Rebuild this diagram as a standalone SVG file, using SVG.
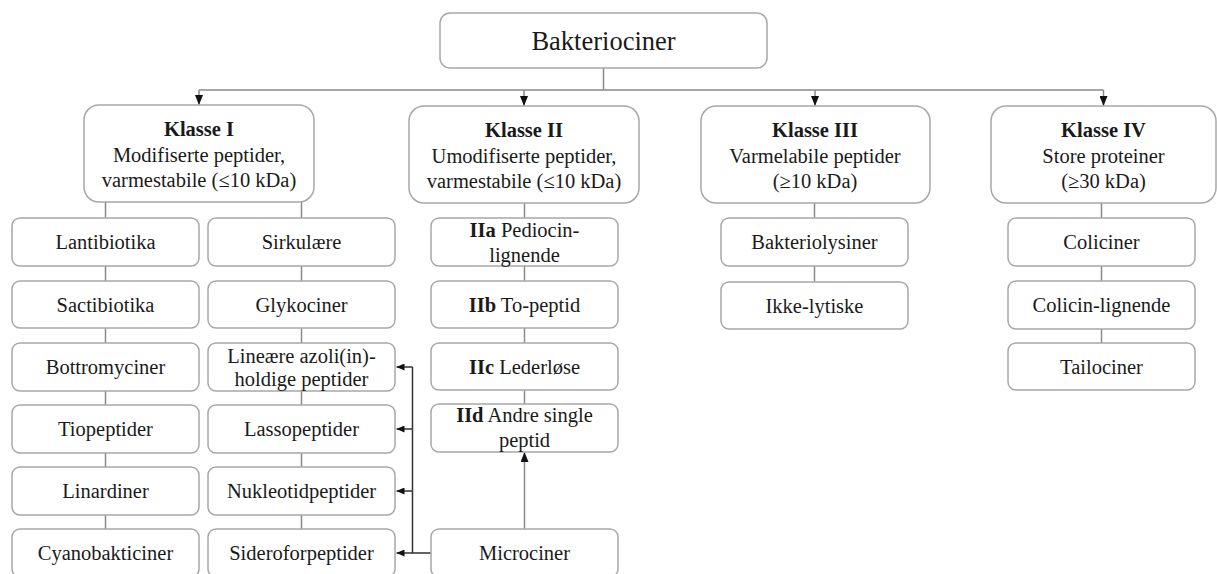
<svg xmlns="http://www.w3.org/2000/svg" width="1217" height="574" viewBox="0 0 1217 574">
<style>
.bx{fill:#fff;stroke:#a8a8a8;stroke-width:1.5}
.t{font-family:"Liberation Serif","Times New Roman",serif;font-size:20.5px;fill:#1a1a1a;text-anchor:middle}
.b{font-weight:bold}
.ln{fill:none;stroke:#8a8a8a;stroke-width:1.5}
.dk{fill:none;stroke:#333;stroke-width:1.5}
</style>
<defs>
<marker id="ah" viewBox="0 0 10 8" refX="10" refY="4" markerWidth="10" markerHeight="8" markerUnits="userSpaceOnUse" orient="auto"><path d="M0,0L10,4L0,8z" fill="#111"/></marker>
<marker id="as" viewBox="0 0 8 7" refX="8" refY="3.5" markerWidth="8" markerHeight="7" markerUnits="userSpaceOnUse" orient="auto"><path d="M0,0L8,3.5L0,7z" fill="#111"/></marker>
</defs>
<rect width="1217" height="574" fill="#fff"/>
<g id="connectors">
<path class="ln" d="M603.5,68V90M199,90H1103.5"/>
<path class="ln" d="M199,90V105" marker-end="url(#ah)"/>
<path class="ln" d="M524,90V106" marker-end="url(#ah)"/>
<path class="ln" d="M815,90V106" marker-end="url(#ah)"/>
<path class="ln" d="M1103.5,90V106" marker-end="url(#ah)"/>
<path class="ln" d="M105.5,202V218M105.5,266V281M105.5,328V343M105.5,391V405M105.5,453V467M105.5,515V529"/>
<path class="ln" d="M301.5,202V218M301.5,266V281M301.5,328V343M301.5,391V405M301.5,453V467M301.5,515V529"/>
<path class="ln" d="M524.5,203V218M524.5,266V281M524.5,328V343M524.5,390V404"/>
<path class="ln" d="M814.5,203V218M814.5,266V282"/>
<path class="ln" d="M1101.5,203V218M1101.5,266V281M1101.5,329V343"/>
<path class="ln" d="M524.5,529V452" marker-end="url(#ah)"/>
<path class="dk" d="M431,553H412.5V367"/>
<path class="dk" d="M412.5,367H396.5" marker-end="url(#as)"/>
<path class="dk" d="M412.5,429H396.5" marker-end="url(#as)"/>
<path class="dk" d="M412.5,491H396.5" marker-end="url(#as)"/>
<path class="dk" d="M412.5,553H396.5" marker-end="url(#as)"/>
</g>
<g id="root"><rect class="bx" x="440" y="13" width="327" height="55" rx="10"/><text class="t" x="603.5" y="50" style="font-size:26.5px">Bakteriociner</text></g>
<g id="k1"><rect class="bx" x="84" y="105" width="230" height="97" rx="15"/><text class="t" x="199" y="136"><tspan class="b">Klasse I</tspan></text><text class="t" x="199" y="162">Modifiserte peptider,</text><text class="t" x="199" y="187">varmestabile (≤10 kDa)</text></g>
<g id="k2"><rect class="bx" x="409" y="106" width="230" height="97" rx="15"/><text class="t" x="524" y="137"><tspan class="b">Klasse II</tspan></text><text class="t" x="524" y="163">Umodifiserte peptider,</text><text class="t" x="524" y="188">varmestabile (≤10 kDa)</text></g>
<g id="k3"><rect class="bx" x="701" y="106" width="229" height="97" rx="15"/><text class="t" x="815" y="137"><tspan class="b">Klasse III</tspan></text><text class="t" x="815" y="163">Varmelabile peptider</text><text class="t" x="815" y="188">(≥10 kDa)</text></g>
<g id="k4"><rect class="bx" x="991" y="106" width="225" height="97" rx="15"/><text class="t" x="1103.5" y="137"><tspan class="b">Klasse IV</tspan></text><text class="t" x="1103.5" y="163">Store proteiner</text><text class="t" x="1103.5" y="188">(≥30 kDa)</text></g>
<g id="lantibiotika"><rect class="bx" x="12" y="218" width="187" height="48" rx="8"/><text class="t" x="105.5" y="249">Lantibiotika</text></g>
<g id="sactibiotika"><rect class="bx" x="12" y="281" width="187" height="47" rx="8"/><text class="t" x="105.5" y="312">Sactibiotika</text></g>
<g id="bottromyciner"><rect class="bx" x="12" y="343" width="187" height="48" rx="8"/><text class="t" x="105.5" y="374">Bottromyciner</text></g>
<g id="tiopeptider"><rect class="bx" x="12" y="405" width="187" height="48" rx="8"/><text class="t" x="105.5" y="436">Tiopeptider</text></g>
<g id="linardiner"><rect class="bx" x="12" y="467" width="187" height="48" rx="8"/><text class="t" x="105.5" y="498">Linardiner</text></g>
<g id="cyanobakticiner"><rect class="bx" x="12" y="529" width="187" height="48" rx="8"/><text class="t" x="105.5" y="560">Cyanobakticiner</text></g>
<g id="sirkulaere"><rect class="bx" x="208" y="218" width="187" height="48" rx="8"/><text class="t" x="301.5" y="249">Sirkulære</text></g>
<g id="glykociner"><rect class="bx" x="208" y="281" width="187" height="47" rx="8"/><text class="t" x="301.5" y="312">Glykociner</text></g>
<g id="lineaere"><rect class="bx" x="208" y="343" width="187" height="48" rx="8"/><text class="t" x="301.5" y="363">Lineære azoli(in)-</text><text class="t" x="301.5" y="386">holdige peptider</text></g>
<g id="lassopeptider"><rect class="bx" x="208" y="405" width="187" height="48" rx="8"/><text class="t" x="301.5" y="436">Lassopeptider</text></g>
<g id="nukleotidpeptider"><rect class="bx" x="208" y="467" width="187" height="48" rx="8"/><text class="t" x="301.5" y="498">Nukleotidpeptider</text></g>
<g id="sideroforpeptider"><rect class="bx" x="208" y="529" width="187" height="48" rx="8"/><text class="t" x="301.5" y="560">Sideroforpeptider</text></g>
<g id="iia"><rect class="bx" x="431" y="218" width="187" height="48" rx="8"/><text class="t" x="524.5" y="237"><tspan class="b">IIa</tspan> Pediocin-</text><text class="t" x="524.5" y="262">lignende</text></g>
<g id="iib"><rect class="bx" x="431" y="281" width="187" height="47" rx="8"/><text class="t" x="524.5" y="312"><tspan class="b">IIb</tspan> To-peptid</text></g>
<g id="iic"><rect class="bx" x="431" y="343" width="187" height="47" rx="8"/><text class="t" x="524.5" y="374"><tspan class="b">IIc</tspan> Lederløse</text></g>
<g id="iid"><rect class="bx" x="431" y="404" width="187" height="48" rx="8"/><text class="t" x="524.5" y="422"><tspan class="b">IId</tspan> Andre single</text><text class="t" x="524.5" y="447">peptid</text></g>
<g id="microciner"><rect class="bx" x="431" y="529" width="187" height="48" rx="8"/><text class="t" x="524.5" y="560">Microciner</text></g>
<g id="bakteriolysiner"><rect class="bx" x="721" y="218" width="187" height="48" rx="8"/><text class="t" x="814.5" y="249">Bakteriolysiner</text></g>
<g id="ikkelytiske"><rect class="bx" x="721" y="282" width="187" height="47" rx="8"/><text class="t" x="814.5" y="313">Ikke-lytiske</text></g>
<g id="coliciner"><rect class="bx" x="1008" y="218" width="187" height="48" rx="8"/><text class="t" x="1101.5" y="249">Coliciner</text></g>
<g id="colicinlignende"><rect class="bx" x="1008" y="281" width="187" height="48" rx="8"/><text class="t" x="1101.5" y="312">Colicin-lignende</text></g>
<g id="tailociner"><rect class="bx" x="1008" y="343" width="187" height="47" rx="8"/><text class="t" x="1101.5" y="374">Tailociner</text></g>
</svg>
